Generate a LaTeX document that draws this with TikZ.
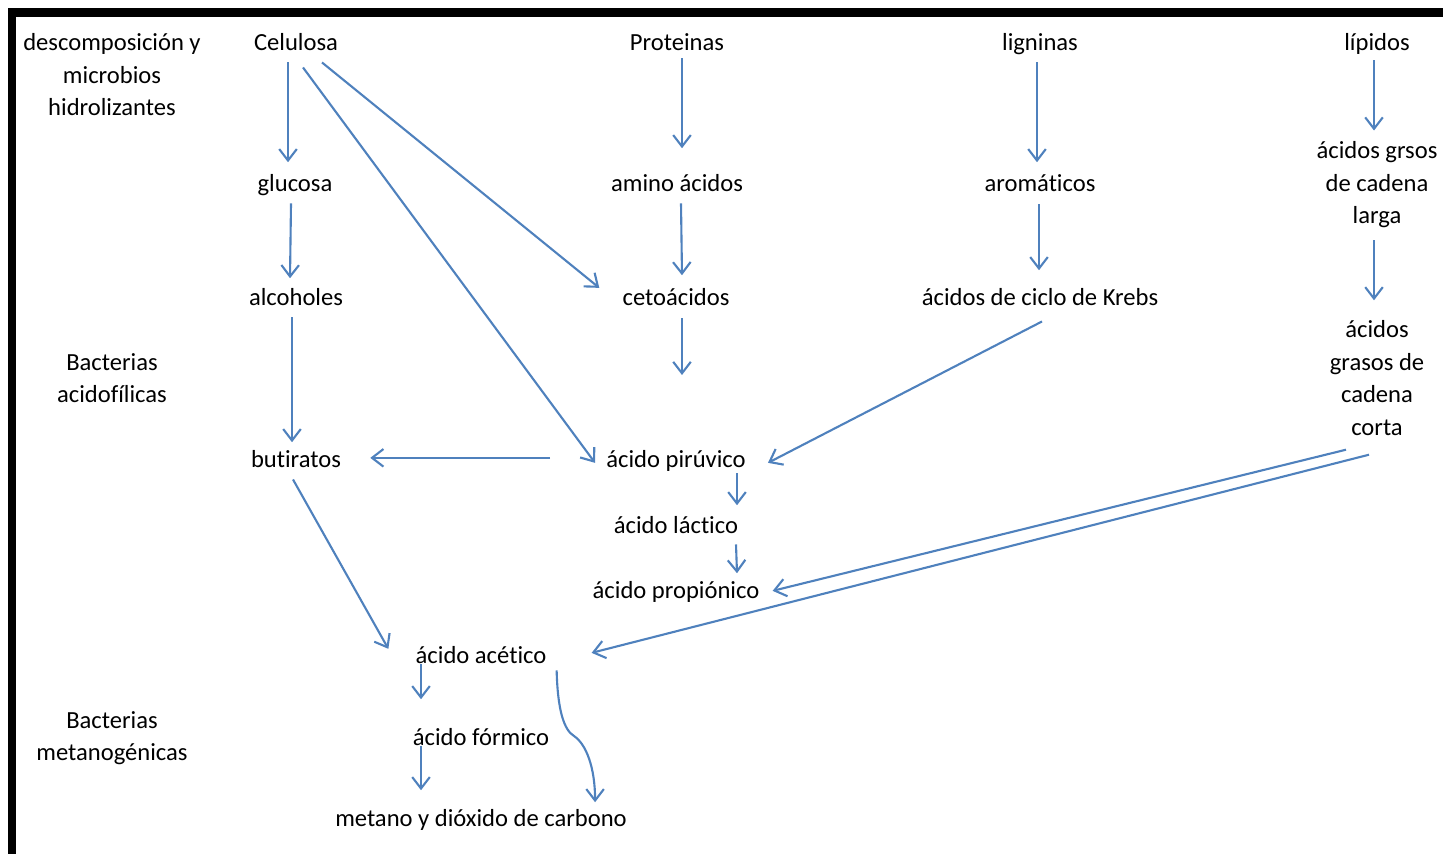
\documentclass[tikz,border=0pt]{standalone}
\usepackage{fontspec}
\setmainfont[Ligatures=NoCommon]{Carlito}
\usetikzlibrary{arrows.meta}
\definecolor{flecha}{RGB}{79,129,189}

\begin{document}
\begin{tikzpicture}[x=0.02cm, y=-0.02cm,
    txt/.style={font=\fontsize{14}{18.5}\selectfont, inner sep=3.4pt,
      text height=10.5pt, text depth=3.5pt, anchor=base},
    grp/.style={font=\fontsize{14}{18.5}\selectfont, inner sep=3.4pt, align=center},
    arr/.style={flecha, line width=1.2pt, -{Straight Barb[length=6.5pt,width=10pt]}}]
    \useasboundingbox (0,0) rectangle (1443,854);

    % Frame
    \fill[black] (8,8) rectangle (1443,17);
    \fill[black] (8,8) rectangle (16,854);

    % Stage labels
    \node[grp] (etapa1) at (112,75) {descomposición y\\microbios\\hidrolizantes};
    \node[grp] (etapa2) at (112,378) {Bacterias\\acidofílicas};
    \node[grp] (etapa3) at (112,738) {Bacterias\\metanogénicas};

    % Substrates
    \node[txt] (cel) at (296,51) {Celulosa};
    \node[txt] (prot) at (677,51) {Proteinas};
    \node[txt] (lig) at (1040,51) {ligninas};
    \node[txt] (lip) at (1377,51) {lípidos};

    % Intermediates
    \node[txt] (glu) at (295,192) {glucosa};
    \node[txt] (amino) at (677,192) {amino ácidos};
    \node[txt] (aro) at (1040,192) {aromáticos};
    \node[grp] (grsos) at (1377,185) {ácidos grsos\\de cadena\\larga};
    \node[txt] (alc) at (296,306) {alcoholes};
    \node[txt] (ceto) at (676,306) {cetoácidos};
    \node[txt] (krebs) at (1040,306) {ácidos de ciclo de Krebs};
    \node[grp] (corta) at (1377,378) {ácidos\\grasos de\\cadena\\corta};
    \node[txt] (but) at (296,468) {butiratos};
    \node[txt] (piru) at (676,468) {ácido pirúvico};
    \node[txt] (lact) at (676,533) {ácido láctico};
    \node[txt] (propi) at (676,598) {ácido propiónico};
    \node[txt] (acet) at (481,663) {ácido acético};
    \node[txt] (form) at (481,745) {ácido fórmico};
    \node[txt] (met) at (481,826) {metano y dióxido de carbono};

    \coordinate (cetofin) at (682,375);
    \coordinate (giro) at (574,736);

    % Celulosa branch
    \draw[arr] ([shift={(-8,-1)}]cel.south) -- ([shift={(-7,-5)}]glu.north);
    \draw[arr] ([shift={(7,4)}]cel.south) -- ([shift={(-5,1)}]piru.west);
    \draw[arr] ([shift={(26,-1)}]cel.south) -- ([shift={(-17,-12)}]ceto.west);
    \draw[arr] ([shift={(-4,-1)}]glu.south) -- ([shift={(-6,-3)}]alc.north);
    \draw[arr] ([shift={(-4,-1)}]alc.south) -- ([shift={(-4,-1)}]but.north);
    \draw[arr] ([shift={(-50,-4)}]piru.west) -- ([shift={(23,-4)}]but.east);
    \draw[arr] ([shift={(-3,-1)}]but.south) -- ([shift={(-21,-8)}]acet.west);

    % Proteinas and ligninas
    \draw[arr] ([shift={(5,-5)}]prot.south) -- ([shift={(5,-19)}]amino.north);
    \draw[arr] ([shift={(4,-1)}]amino.south) -- ([shift={(6,-6)}]ceto.north);
    \draw[arr] ([shift={(6,0)}]ceto.south) -- (cetofin);
    \draw[arr] ([shift={(-3,-1)}]lig.south) -- ([shift={(-3,-5)}]aro.north);
    \draw[arr] ([shift={(-1,0)}]aro.south) -- ([shift={(-1,-11)}]krebs.north);
    \draw[arr] ([shift={(2,3)}]krebs.south) -- ([shift={(16,1)}]piru.east);

    % lipidos
    \draw[arr] ([shift={(-3,-3)}]lip.south) -- ([shift={(-3,-5)}]grsos.north);
    \draw[arr] ([shift={(-3,6)}]grsos.south) -- ([shift={(-3,-14)}]corta.north);
    \draw[arr] ([shift={(-31,8)}]corta.south) -- ([shift={(7,-1)}]propi.east);
    \draw[arr] ([shift={(-8,13)}]corta.south) -- ([shift={(39,-4)}]acet.east);

    % Acids
    \draw[arr] ([shift={(61,-7)}]piru.south) -- ([shift={(61,-3)}]lact.north);
    \draw[arr] ([shift={(60,-1)}]lact.south) -- ([shift={(61,0)}]propi.north);
    \draw[arr] ([shift={(-60,-11)}]acet.south) -- ([shift={(-60,-21)}]form.north);
    \draw[arr] ([shift={(-60,-11)}]form.south) -- ([shift={(-60,-11)}]met.north);
    \draw[arr] ([shift={(4,-5)}]acet.south east) .. controls +(1,40) and +(-10,-6) .. (giro)
      .. controls +(12,8) and +(0,-35) .. ([shift={(-38,1)}]met.north east);
\end{tikzpicture}
\end{document}
